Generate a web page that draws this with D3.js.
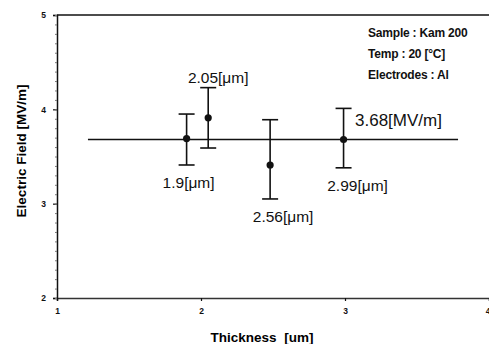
<!DOCTYPE html>
<html>
<head>
<meta charset="utf-8">
<script src="https://cdn.jsdelivr.net/npm/d3@7"></script>
<style>
  body { margin: 0; background: #fff; }
  svg { display: block; }
</style>
</head>
<body>
<svg id="chart" width="489" height="344"></svg>
<script>
// values
const thickness = [1.9, 2.05, 2.48, 2.99];
const pointLabels = ['1.9[μm]', '2.05[μm]', '2.56[μm]', '2.99[μm]'];
const fieldMean = [3.69, 3.91, 3.41, 3.68];
const fieldHigh = [3.95, 4.23, 3.89, 4.01];
const fieldLow = [3.41, 3.59, 3.05, 3.38];
const avgField = 3.68;
const avgRange = [1.215, 3.785];
const avgLabel = '3.68[MV/m]';
const xTicks = [1, 2, 3, 4];
const yTicks = [2, 3, 4, 5];
const notes = ['Sample : Kam 200', 'Temp : 20 [°C]', 'Electrodes : Al'];

// where each point label sits: above/below its bar, shifted right
const labelPlace = [
    { dx: 2, above: false },
    { dx: 10, above: true },
    { dx: 13, above: false },
    { dx: 14, above: false }
];

const svg = d3.select('#chart');
const x = d3.scaleLinear().domain([1, 4]).range([57, 489]);
const y = d3.scaleLinear().domain([2, 5]).range([298, 15]);

const data = thickness.map((t, i) => ({
    t: t, label: pointLabels[i], mean: fieldMean[i], hi: fieldHigh[i], lo: fieldLow[i], place: labelPlace[i]
}));

// top frame line
svg.append('line')
    .attr('x1', x(1)).attr('x2', x(4))
    .attr('y1', y(5)).attr('y2', y(5))
    .attr('stroke', '#111').attr('stroke-width', 1.5);

// axes
const xAxis = svg.append('g')
    .attr('transform', `translate(0,${y(2)})`)
    .call(d3.axisBottom(x).tickValues(xTicks).tickFormat(d3.format('d')).tickSize(3).tickPadding(7));
const yAxis = svg.append('g')
    .attr('transform', `translate(${x(1)},0)`)
    .call(d3.axisLeft(y).tickValues(yTicks).tickFormat(d3.format('d')).tickSize(4).tickPadding(7));

// minor ticks on the y axis
svg.append('g')
    .attr('transform', `translate(${x(1)},0)`)
    .call(d3.axisLeft(y).ticks(30).tickSize(2).tickFormat(''))
    .call(g => g.select('.domain').remove())
    .selectAll('line').attr('stroke', '#777');

[xAxis, yAxis].forEach(g => {
    g.select('.domain').attr('stroke', '#111').attr('stroke-width', 1.5);
    g.selectAll('.tick line').attr('stroke', '#111').attr('stroke-width', 1.2);
    g.selectAll('.tick text')
        .attr('fill', '#111')
        .style('font-family', 'Liberation Sans, Arial, sans-serif')
        .style('font-size', '8.5px')
        .style('font-weight', 'bold');
});
xAxis.select('.domain').attr('stroke', '#333');
// last x tick label sits at the window edge
xAxis.selectAll('.tick text').filter(d => d === 4)
    .attr('text-anchor', 'end').attr('dx', 1);

// axis titles
svg.append('text')
    .attr('x', 262).attr('y', 342)
    .attr('text-anchor', 'middle')
    .style('font-family', 'Liberation Sans, Arial, sans-serif')
    .style('font-size', '13.5px').style('font-weight', 'bold')
    .style('word-spacing', '4px')
    .text('Thickness [um]');

svg.append('text')
    .attr('transform', 'translate(26,151) rotate(-90)')
    .attr('text-anchor', 'middle')
    .style('font-family', 'Liberation Sans, Arial, sans-serif')
    .style('font-size', '13.5px').style('font-weight', 'bold')
    .text('Electric Field [MV/m]');

// average line
svg.append('line')
    .attr('x1', x(avgRange[0])).attr('x2', x(avgRange[1]))
    .attr('y1', y(avgField)).attr('y2', y(avgField))
    .attr('stroke', '#111').attr('stroke-width', 1.5);

svg.append('text')
    .attr('x', x(avgRange[1]) - 103).attr('y', y(avgField) - 14)
    .style('font-family', 'Liberation Sans, Arial, sans-serif')
    .style('font-size', '17px')
    .attr('fill', '#111')
    .text(avgLabel);

// error bars
const bars = svg.append('g').selectAll('g').data(data).join('g');
bars.append('line')
    .attr('x1', d => x(d.t)).attr('x2', d => x(d.t))
    .attr('y1', d => y(d.hi)).attr('y2', d => y(d.lo))
    .attr('stroke', '#111').attr('stroke-width', 1.6);
bars.append('line')
    .attr('x1', d => x(d.t) - 8).attr('x2', d => x(d.t) + 8)
    .attr('y1', d => y(d.hi)).attr('y2', d => y(d.hi))
    .attr('stroke', '#111').attr('stroke-width', 1.6);
bars.append('line')
    .attr('x1', d => x(d.t) - 8).attr('x2', d => x(d.t) + 8)
    .attr('y1', d => y(d.lo)).attr('y2', d => y(d.lo))
    .attr('stroke', '#111').attr('stroke-width', 1.6);
bars.append('circle')
    .attr('cx', d => x(d.t)).attr('cy', d => y(d.mean))
    .attr('r', 3.6).attr('fill', '#111');

bars.append('text')
    .attr('x', d => x(d.t) + d.place.dx)
    .attr('y', d => d.place.above ? y(d.hi) - 5 : y(d.lo) + 23)
    .attr('text-anchor', 'middle')
    .style('font-family', 'Liberation Sans, Arial, sans-serif')
    .style('font-size', '15.5px')
    .attr('fill', '#111')
    .text(d => d.label);

// note box
svg.append('g').selectAll('text').data(notes).join('text')
    .attr('x', 368)
    .attr('y', (d, i) => 37 + i * 21)
    .style('font-family', 'Liberation Sans, Arial, sans-serif')
    .style('font-size', '12px').style('font-weight', 'bold')
    .style('letter-spacing', '-0.2px')
    .attr('fill', '#111')
    .text(d => d);
</script>
</body>
</html>
